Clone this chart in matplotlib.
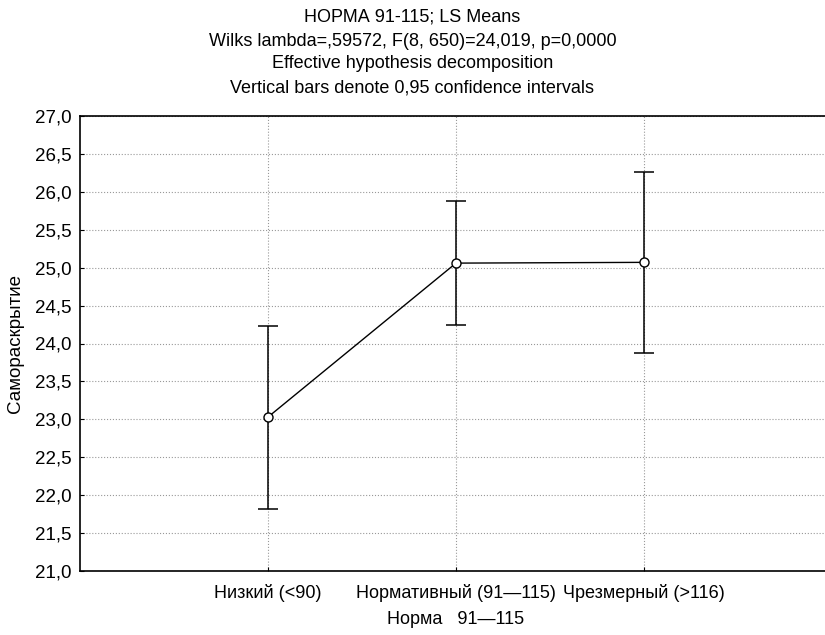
import numpy as np
import matplotlib.pyplot as plt

plt.rcParams['font.family'] = ['Liberation Sans', 'DejaVu Sans']

categories = ['Низкий (<90)', 'Нормативный (91—115)', 'Чрезмерный (>116)']
means = np.array([23.03, 25.06, 25.07])
upper = np.array([24.23, 25.88, 26.26])
lower = np.array([21.82, 24.24, 23.87])

x = np.arange(1, len(categories) + 1)

fig = plt.figure(figsize=(8.25, 6.35), dpi=100)
ax = fig.add_axes([80 / 825, 1 - 571 / 635, (832 - 80) / 825, (571 - 116) / 635])

yerr = np.vstack([means - lower, upper - means])
ax.errorbar(x, means, yerr=yerr, color='black', linewidth=1.0, elinewidth=1.1,
            capsize=7, capthick=1.1, marker='o', markersize=6.5,
            markerfacecolor='white', markeredgecolor='black', zorder=3)

ax.set_xlim(0, 4)
ax.set_ylim(21, 27)
yt = np.arange(21, 27.01, 0.5)
ax.set_yticks(yt)
ax.set_yticklabels([('%.1f' % v).replace('.', ',') for v in yt])
ax.set_xticks(x)
ax.set_xticklabels(categories)

ax.grid(True, color='#999999', linestyle=':', linewidth=0.8)
ax.tick_params(axis='both', direction='in', length=3, width=0.8)
ax.tick_params(axis='y', labelsize=13.5, pad=6)
ax.tick_params(axis='x', labelsize=13, pad=9)
ax.spines['right'].set_visible(False)
for s in ['left', 'top', 'bottom']:
    ax.spines[s].set_linewidth(1.2)

ax.set_ylabel('Самораскрытие', fontsize=13.5, labelpad=8)
ax.set_xlabel('Норма   91—115', fontsize=13, labelpad=7)

fs = 13
fig.text(0.5, 1 - 17 / 635, 'НОРМА 91-115; LS Means', ha='center', va='center', fontsize=fs)
fig.text(0.5, 1 - 41 / 635, 'Wilks lambda=,59572, F(8, 650)=24,019, p=0,0000', ha='center', va='center', fontsize=fs)
fig.text(0.5, 1 - 64 / 635, 'Effective hypothesis decomposition', ha='center', va='center', fontsize=fs)
fig.text(0.5, 1 - 88 / 635, 'Vertical bars denote 0,95 confidence intervals', ha='center', va='center', fontsize=fs)

fig.savefig('out.png', dpi=100)
